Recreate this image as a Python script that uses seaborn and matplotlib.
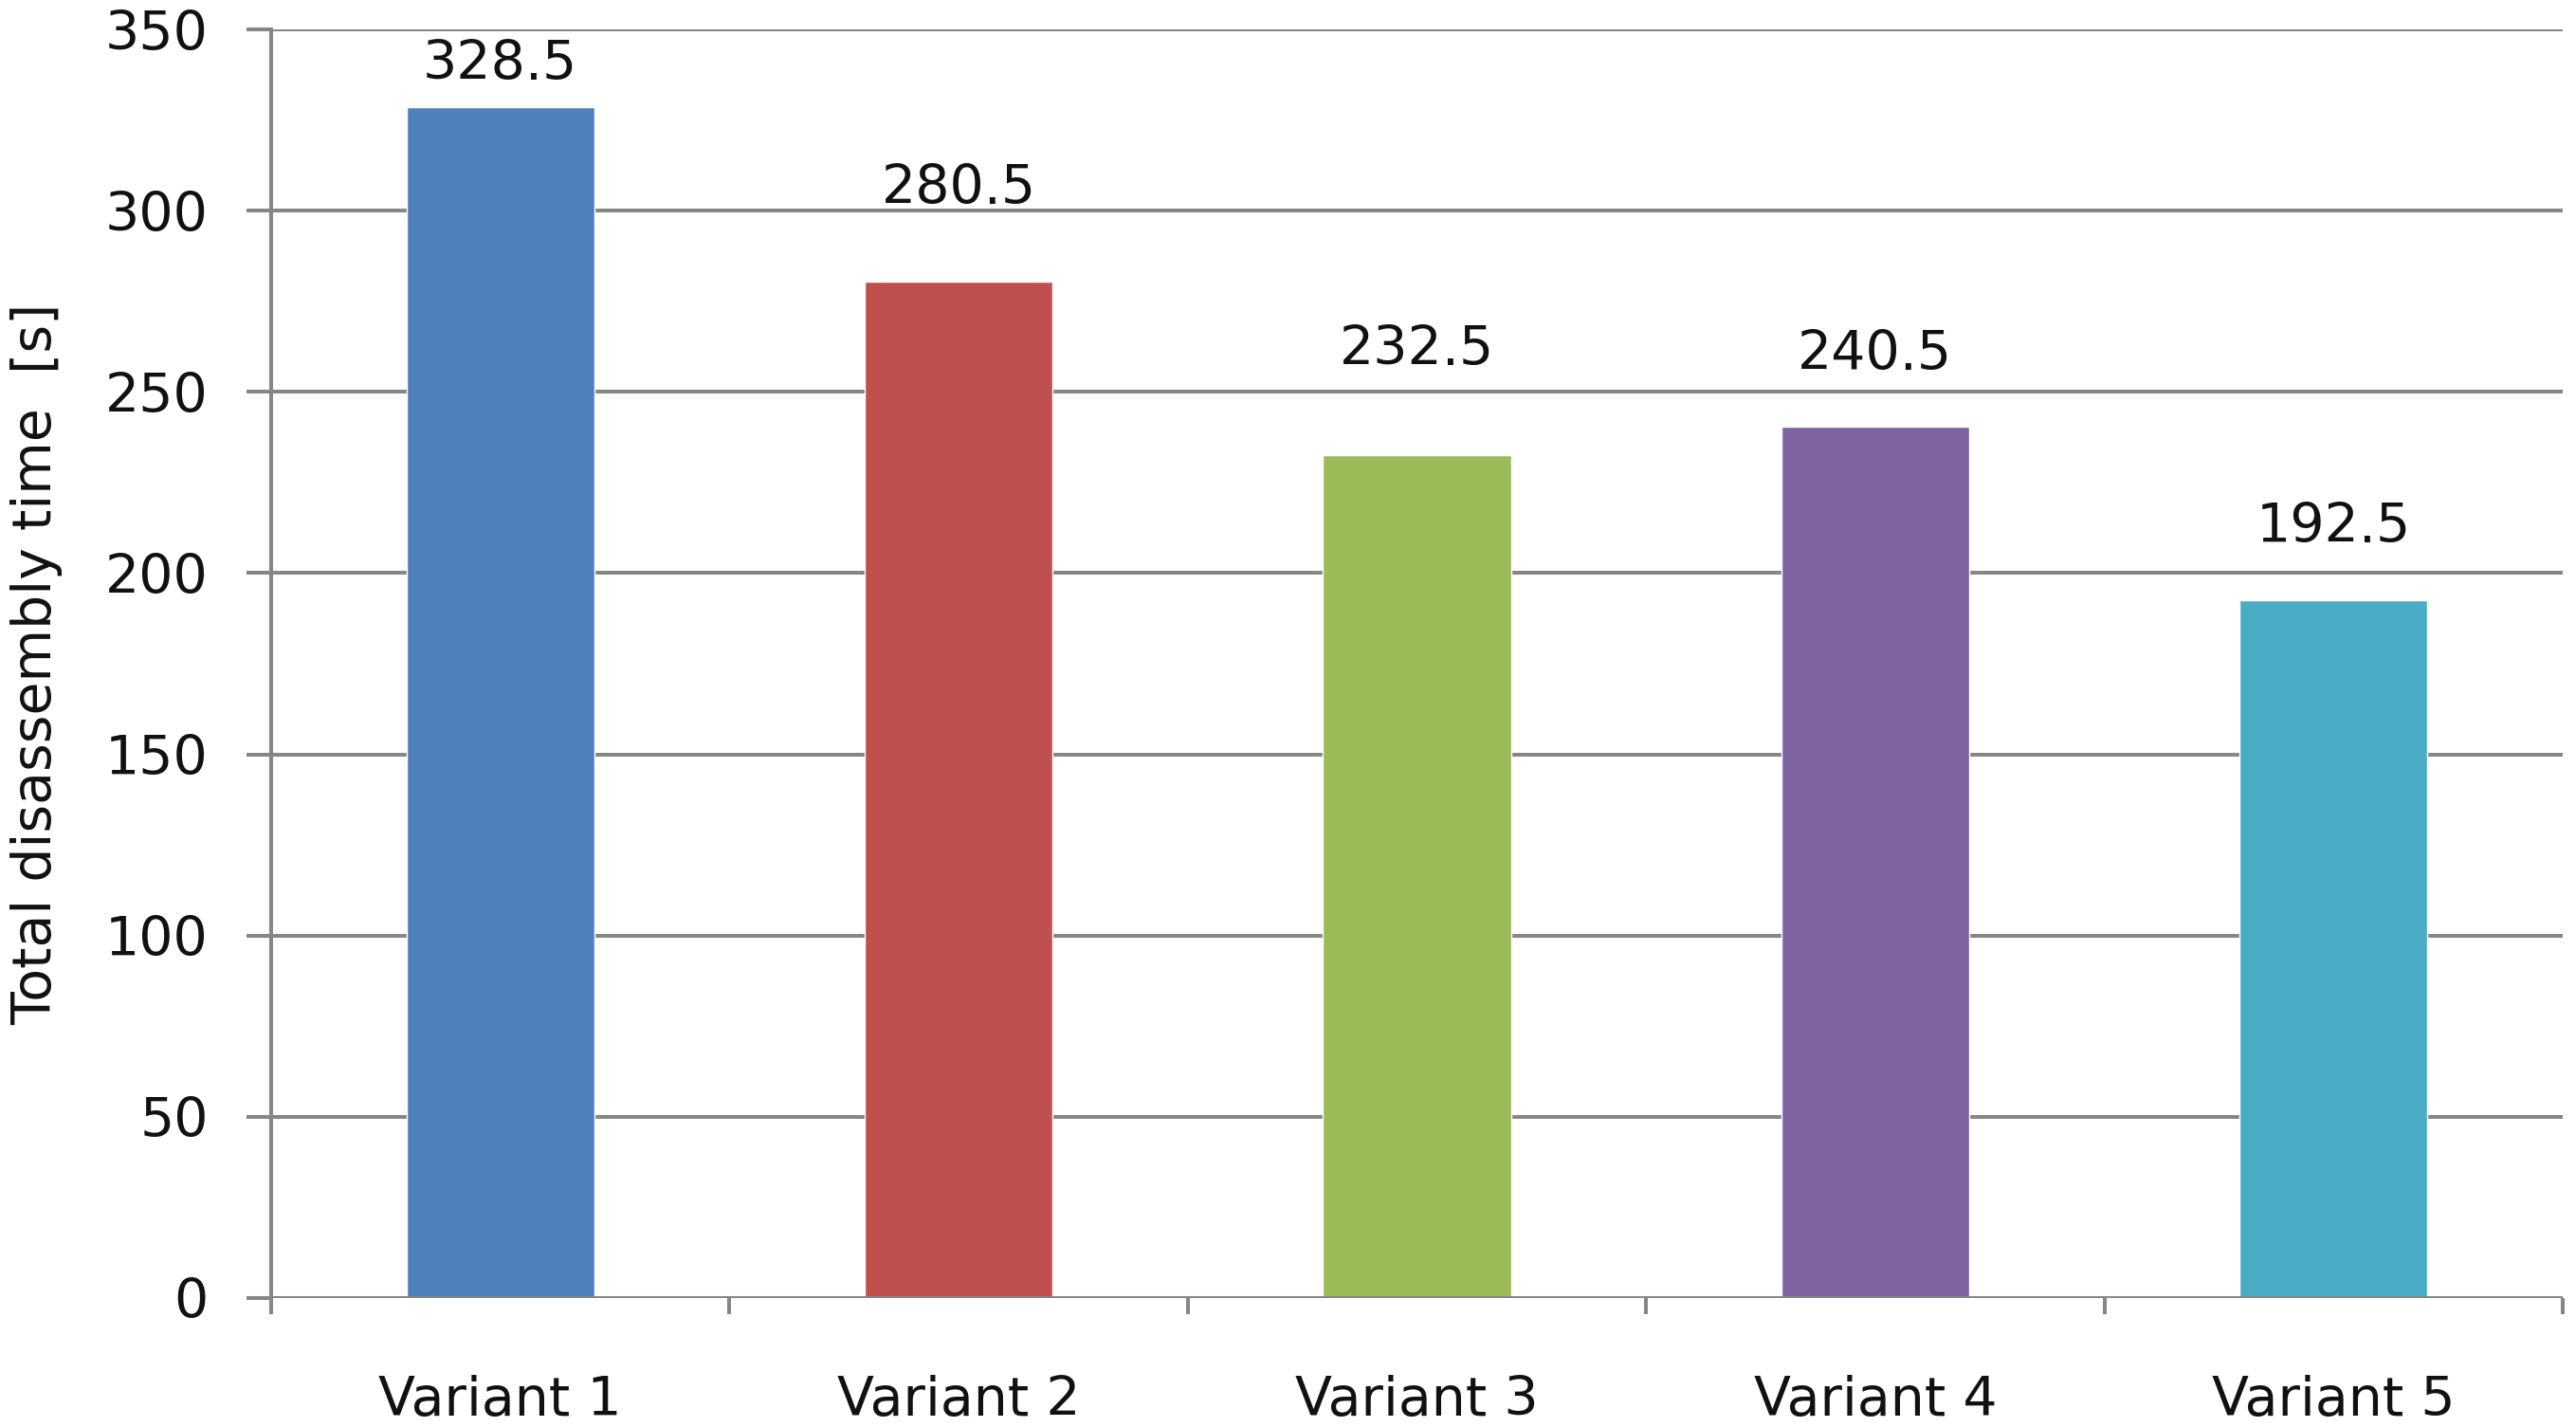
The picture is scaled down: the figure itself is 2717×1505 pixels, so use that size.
import matplotlib
matplotlib.use("Agg")
import matplotlib.pyplot as plt
import seaborn as sns
import pandas as pd

# data
variants = ["Variant 1", "Variant 2", "Variant 3", "Variant 4", "Variant 5"]
times = [328.5, 280.5, 232.5, 240.5, 192.5]
colors = ["#4F81BD", "#C0504D", "#9BBB59", "#8064A2", "#4BACC6"]
yticks = [0, 50, 100, 150, 200, 250, 300, 350]

# label offsets above bar top (points), as Excel placed them
label_offsets = [32, 70, 80, 54, 55]

sns.set_style("white")
plt.rcParams["font.family"] = ["DejaVu Sans"]
GRID = "#868686"
LW = 2.9
FS = 41

df = pd.DataFrame({"variant": variants, "time": times})

fig = plt.figure(figsize=(27.17, 15.05), dpi=100)
ax = fig.add_axes([0.1053, 0.0904, 0.9948 - 0.1053, 0.9794 - 0.0904])

sns.barplot(data=df, x="variant", y="time", hue="variant", palette=colors,
            width=0.41, legend=False, ax=ax, saturation=1, zorder=3)

ax.set_ylim(0, 350)
ax.set_xlim(-0.5, 4.5)
ax.set_yticks(yticks)
ax.yaxis.grid(True, color=GRID, linewidth=LW, zorder=0)
ax.set_axisbelow(True)

for s in ["top", "right", "bottom"]:
    ax.spines[s].set_visible(False)
ax.spines["left"].set_color(GRID)
ax.spines["left"].set_linewidth(LW)
ax.axhline(0, color=GRID, linewidth=LW, zorder=4)

# y ticks
ax.tick_params(axis="y", which="major", left=True, length=18.7, width=LW,
               color=GRID, direction="out", pad=29, labelsize=FS,
               labelcolor="#111111")
# x: labels at centers, tick marks at category borders
ax.set_xticks(range(len(variants)))
ax.set_xticklabels(variants)
ax.tick_params(axis="x", which="major", bottom=True, length=0, pad=58,
               labelsize=FS, labelcolor="#111111")
ax.set_xticks([i - 0.5 for i in range(len(variants) + 1)], minor=True)
ax.tick_params(axis="x", which="minor", bottom=True, length=12.5, width=LW,
               color=GRID, direction="out")

ax.set_xlabel("")
ax.set_ylabel("Total disassembly time  [s]", fontsize=FS, color="#111111")
ax.yaxis.set_label_coords(-0.091, 0.5)

for i, v in enumerate(times):
    ax.annotate(f"{v}", xy=(i, v), xytext=(0, label_offsets[i]),
                textcoords="offset points", ha="center", va="center",
                fontsize=FS, color="#111111")

fig.savefig("out.png", dpi=100)
